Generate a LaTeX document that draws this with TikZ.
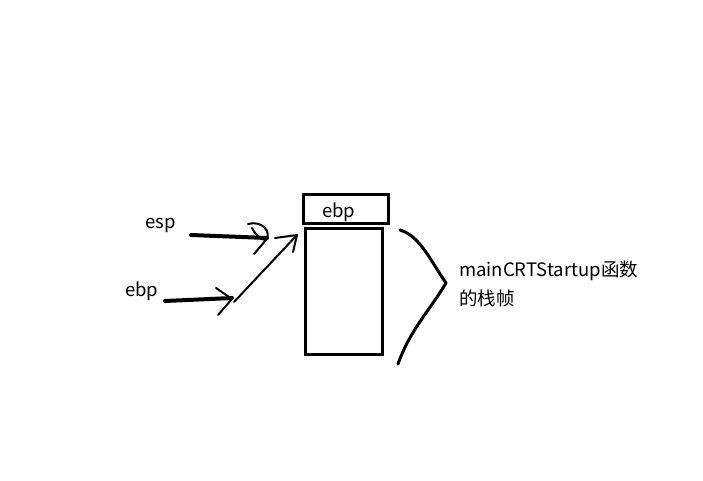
\documentclass[tikz,border=0pt]{standalone}
\usepackage{fontspec}
\setmainfont{Noto Sans CJK SC}
\begin{document}
\begin{tikzpicture}[x=1pt,y=-1pt,
  box/.style={draw, line width=3pt},
  lbl/.style={font=\fontsize{18.5}{22}\selectfont, inner sep=0pt, anchor=base west},
  hand/.style={line width=2pt, line cap=round, line join=round},
  thick arrow/.style={line width=4pt, line cap=round}]
\useasboundingbox (0,0) rectangle (703,481);
% boxes
\draw[box] (303,194) rectangle (388,223);
\node[lbl] (topebp) at (322,217) {ebp};
\draw[box] (305,228) rectangle (382,354);
% labels
\node[lbl] (esp) at (145,228) {esp};
\node[lbl] (ebp) at (125,296) {ebp};
% esp arrow
\coordinate (espS) at (191,235);
\coordinate (espE) at (267,238);
\draw[thick arrow] (espS) -- (espE);
\draw[hand] (248,224) .. controls (262,220) and (272,232) .. (266,240) -- (254,254);
\draw[hand] (252,228) .. controls (256,236) and (262,240) .. (266,240);
% ebp arrow
\coordinate (ebpS) at (165,301);
\coordinate (ebpE) at (232,298);
\draw[thick arrow] (ebpS) -- (ebpE);
\draw[hand] (216,288) -- (232,299) -- (218,315);
% diagonal arrow
\coordinate (diagE) at (297,235);
\draw[hand] (234,302) -- (diagE);
\draw[hand] (275,238) -- (diagE) -- (293,252);
% brace
\draw[line width=3pt, line cap=round, line join=round]
  (400,230) .. controls (420,236) and (430,260) .. (446,283)
  .. controls (430,310) and (410,330) .. (398,364);
% side text
\node[lbl] (t1) at (459,276) {mainCRTStartup函数};
\node[lbl] (t2) at (459,305) {的栈帧};
\end{tikzpicture}
\end{document}
